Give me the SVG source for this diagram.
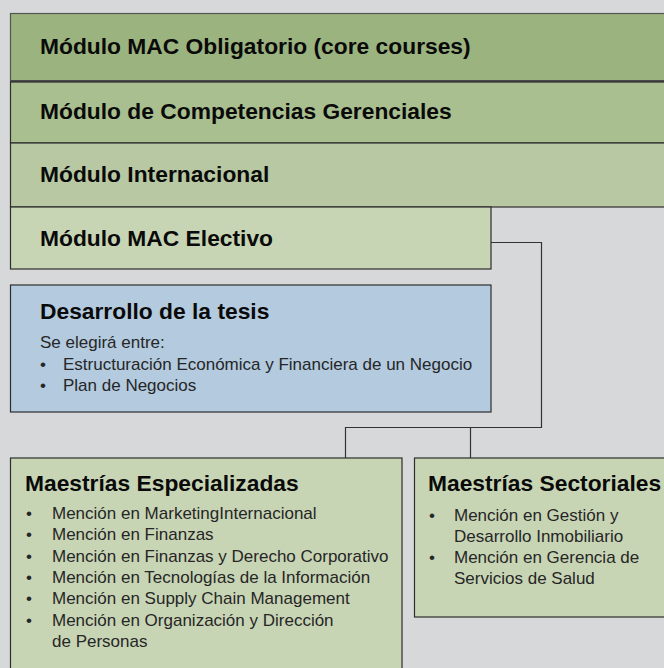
<svg xmlns="http://www.w3.org/2000/svg" width="664" height="668" viewBox="0 0 664 668">
<style>
.bx{stroke:#2e2e2e;stroke-width:1.2}
.h{font-family:"Liberation Sans",Arial,sans-serif;font-weight:bold;font-size:22.8px;fill:#0a0a0a}
.t{font-family:"Liberation Sans",Arial,sans-serif;font-size:17px;fill:#262626}
.c{fill:none;stroke:#333;stroke-width:1.2}
</style>
<rect x="0" y="0" width="664" height="668" fill="#d7d8da"/>
<g id="connectors">
<path class="c" d="M491 242.5 H541.5 V427.5 H345.5 V458 M470.5 427.5 V458"/>
</g>
<g id="mod-obligatorio">
<rect class="bx" x="10.5" y="13.5" width="700" height="67.5" fill="#9bb37f" style="stroke:#555"/>
<line x1="10" y1="81" x2="664" y2="81" stroke="#4a4a4a" stroke-width="2"/>
<text class="h" x="40" y="54">Módulo MAC Obligatorio (core courses)</text>
</g>
<g id="mod-competencias">
<rect class="bx" x="10.5" y="82" width="700" height="61" fill="#a9bf8f"/>
<text class="h" x="40" y="119">Módulo de Competencias Gerenciales</text>
</g>
<g id="mod-internacional">
<rect class="bx" x="10.5" y="143" width="700" height="64" fill="#b7c8a2"/>
<text class="h" x="40" y="182">Módulo Internacional</text>
</g>
<g id="mod-electivo">
<rect class="bx" x="10.5" y="207" width="480.5" height="62" fill="#c8d5b5"/>
<text class="h" x="40" y="246">Módulo MAC Electivo</text>
</g>
<g id="tesis">
<rect class="bx" x="10.5" y="285" width="480.5" height="127" fill="#b3cadf"/>
<text class="h" x="40" y="319">Desarrollo de la tesis</text>
<text class="t" x="40" y="348">Se elegirá entre:</text>
<text class="t" x="40" y="370">•</text>
<text class="t" x="63" y="370">Estructuración Económica y Financiera de un Negocio</text>
<text class="t" x="40" y="391">•</text>
<text class="t" x="63" y="391">Plan de Negocios</text>
</g>
<g id="especializadas">
<rect class="bx" x="10.5" y="458" width="391.5" height="240" fill="#c8d5b5"/>
<text class="h" x="25" y="491">Maestrías Especializadas</text>
<text class="t" x="26" y="519">•</text><text class="t" x="52" y="519">Mención en MarketingInternacional</text>
<text class="t" x="26" y="540.3">•</text><text class="t" x="52" y="540.3">Mención en Finanzas</text>
<text class="t" x="26" y="561.6">•</text><text class="t" x="52" y="561.6">Mención en Finanzas y Derecho Corporativo</text>
<text class="t" x="26" y="582.9">•</text><text class="t" x="52" y="582.9">Mención en Tecnologías de la Información</text>
<text class="t" x="26" y="604.2">•</text><text class="t" x="52" y="604.2">Mención en Supply Chain Management</text>
<text class="t" x="26" y="625.5">•</text><text class="t" x="52" y="625.5">Mención en Organización y Dirección</text>
<text class="t" x="52" y="646.8">de Personas</text>
</g>
<g id="sectoriales">
<rect class="bx" x="414.5" y="458" width="300" height="159" fill="#c8d5b5"/>
<text class="h" x="428" y="491">Maestrías Sectoriales</text>
<text class="t" x="429" y="521">•</text><text class="t" x="454" y="521">Mención en Gestión y</text>
<text class="t" x="454" y="542">Desarrollo Inmobiliario</text>
<text class="t" x="429" y="563">•</text><text class="t" x="454" y="563">Mención en Gerencia de</text>
<text class="t" x="454" y="584">Servicios de Salud</text>
</g>
</svg>
